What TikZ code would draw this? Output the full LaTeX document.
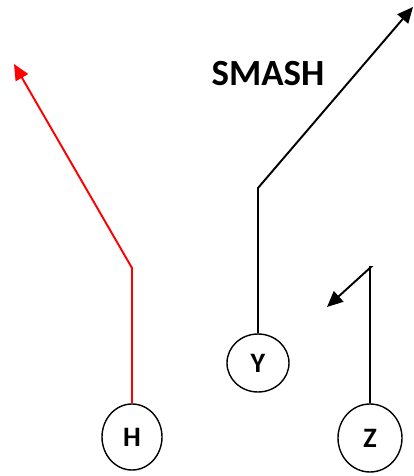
\documentclass[tikz,border=0pt]{standalone}
\usepackage{fontspec}
\setmainfont{Carlito}
\usetikzlibrary{shapes.geometric,arrows.meta}

\tikzset{
	player/.style={draw, ellipse, thick, inner sep=0pt, font=\bfseries\fontsize{16}{19}\selectfont},
	route/.style={line width=1.1pt, -{Triangle[length=9pt,width=8pt]}},
}

\begin{document}
\begin{tikzpicture}
	\useasboundingbox (0,0) rectangle (8.28,9.52);
	
	% players
	\node[player, minimum width=1.2cm, minimum height=1.32cm] (H) at (2.64,0.78) {H};
	\node[player, minimum width=1.24cm, minimum height=1.16cm] (Y) at (5.16,2.26) {Y};
	\node[player, minimum width=1.28cm, minimum height=1.36cm] (Z) at (7.40,0.76) {Z};
	
	% break points and ends of the routes
	\coordinate (hcut) at (2.64,4.16);
	\coordinate (hend) at (0.28,8.24);
	\coordinate (ycut) at (5.16,5.76);
	\coordinate (yend) at (8.26,9.38);
	\coordinate (zcut) at (7.42,4.18);
	\coordinate (zend) at (6.54,3.38);
	
	\draw[route, red] (H.north) -- (hcut) -- (hend);
	\draw[route] (Y.north) -- (ycut) -- (yend);
	\draw[route] (Z.north) |- (zcut) -- (zend);
	
	\node[font=\bfseries\fontsize{21}{25}\selectfont] (smash) at (5.36,8.04) {SMASH};
\end{tikzpicture}
\end{document}
